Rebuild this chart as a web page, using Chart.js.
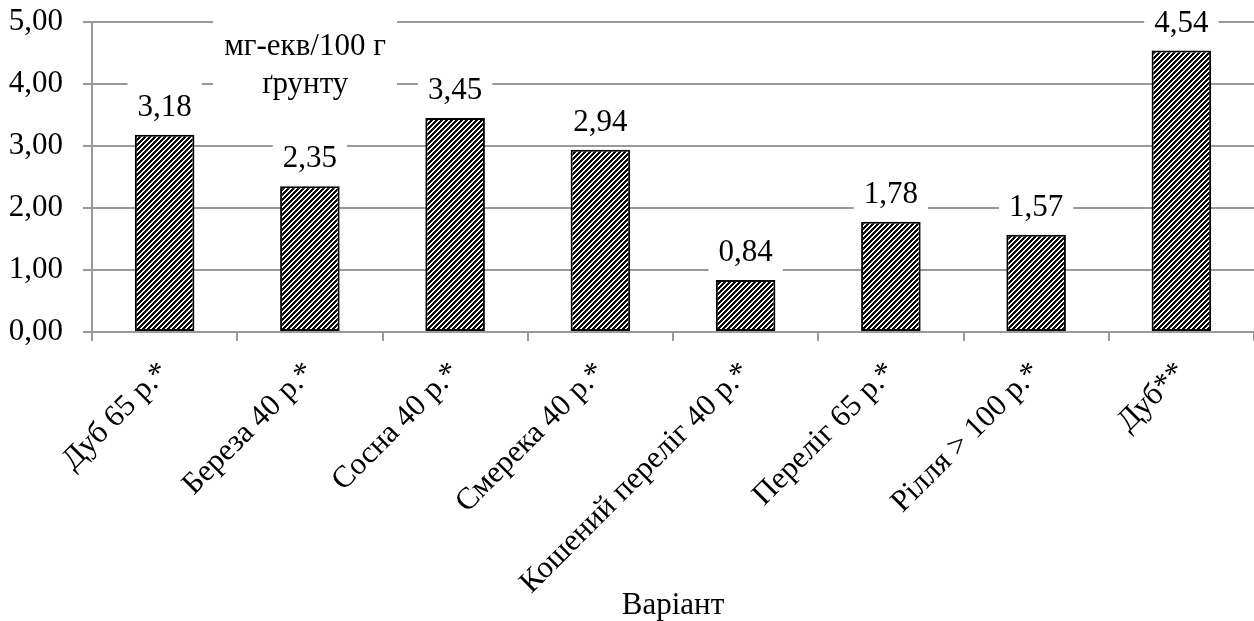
<!DOCTYPE html>
<html>
<head>
<meta charset="utf-8">
<script src="https://cdn.jsdelivr.net/npm/chart.js@4.4.1/dist/chart.umd.min.js"></script>
<style>
html,body{margin:0;padding:0;background:#fff;}
#wrap{width:1254px;height:621px;position:relative;}
</style>
</head>
<body>
<div id="wrap"><canvas id="c" width="1254" height="621"></canvas></div>
<script>
const categories = ["Дуб 65 р.*", "Береза 40 р.*", "Сосна 40 р.*", "Смерека 40 р.*", "Кошений переліг 40 р.*", "Переліг 65 р.*", "Рілля > 100 р.*", "Дуб**"];
const values = [3.18, 2.35, 3.45, 2.94, 0.84, 1.78, 1.57, 4.54];
const yTicks = [0, 1, 2, 3, 4, 5];
const unitLines = ["мг-екв/100 г", "ґрунту"];
const xTitle = "Варіант";

const FONT = "'Liberation Serif', 'Times New Roman', serif";
const FS = 31;
const GRID = '#999999';

function fmt(v){ return v.toFixed(2).replace('.', ','); }

// Hatch pattern (wide upward diagonal)
function makePattern(){
  const n = 10;
  const c = document.createElement('canvas');
  c.width = n; c.height = n;
  const g = c.getContext('2d');
  const img = g.createImageData(n, n);
  for (let y = 0; y < n; y++) for (let x = 0; x < n; x++) {
    const m = (x + y) % 5;
    let v = 255;
    if (m === 0 || m === 1) v = 0;
    else if (m === 2) v = 20;
    const i = (y * n + x) * 4;
    img.data[i] = v; img.data[i+1] = v; img.data[i+2] = v; img.data[i+3] = 255;
  }
  g.putImageData(img, 0, 0);
  return document.getElementById('c').getContext('2d').createPattern(c, 'repeat');
}

const labelPlugin = {
  id: 'valueLabels',
  afterDatasetsDraw(chart){
    const ctx = chart.ctx;
    const meta = chart.getDatasetMeta(0);
    ctx.save();
    ctx.font = FS + 'px ' + FONT;
    ctx.textAlign = 'center';
    ctx.textBaseline = 'alphabetic';
    meta.data.forEach((bar, i) => {
      const t = fmt(values[i]);
      const w = ctx.measureText(t).width;
      const base = bar.y - 19;
      const cy = base - 11;
      ctx.fillStyle = '#fff';
      ctx.fillRect(bar.x - w/2 - 10, cy - 23, w + 20, 46);
      ctx.fillStyle = '#000';
      ctx.fillText(t, bar.x, base);
    });
    // unit box
    const a = chart.chartArea;
    const cx = a.left + 213;
    ctx.fillStyle = '#fff';
    ctx.fillRect(a.left + 121, a.top - 12, 184, 96);
    ctx.fillStyle = '#000';
    ctx.fillText(unitLines[0], cx, a.top + 33);
    ctx.fillText(unitLines[1], cx, a.top + 71);
    ctx.restore();
  }
};

const ctx = document.getElementById('c').getContext('2d');
new Chart(ctx, {
  type: 'bar',
  data: {
    labels: categories,
    datasets: [{
      data: values,
      backgroundColor: makePattern(),
      borderColor: '#000',
      borderWidth: 2,
      borderSkipped: false,
      barPercentage: 0.41,
      categoryPercentage: 1.0
    }]
  },
  options: {
    responsive: false,
    animation: false,
    devicePixelRatio: 1,
    layout: { padding: { top: 22, right: 0, bottom: 0, left: 0 } },
    plugins: { legend: { display: false }, tooltip: { enabled: false }, title: { display: false } },
    scales: {
      x: {
        offset: true,
        grid: { display: true, drawOnChartArea: false, drawTicks: true, tickLength: 9, offset: true, color: GRID, lineWidth: 2 },
        border: { display: true, color: GRID, width: 2 },
        ticks: { color: '#000', font: { family: FONT, size: FS }, maxRotation: 45, minRotation: 45, padding: 14, autoSkip: false },
        title: { display: true, text: xTitle, color: '#000', font: { family: FONT, size: FS }, padding: { top: 0, bottom: -3 } },
        afterFit(s){ s.height = 289; s.paddingLeft = 0; s.paddingRight = 0; }
      },
      y: {
        min: 0, max: 5,
        afterBuildTicks(s){ s.ticks = yTicks.map(v => ({ value: v })); },
        grid: { color: GRID, lineWidth: 2, tickLength: 9, drawTicks: true },
        border: { display: true, color: GRID, width: 2 },
        ticks: { color: '#000', font: { family: FONT, size: FS }, padding: 20, callback: v => fmt(v) },
        afterFit(s){ s.width = 92; s.paddingTop = 0; s.paddingBottom = 0; }
      }
    }
  },
  plugins: [labelPlugin]
});
</script>
</body>
</html>
